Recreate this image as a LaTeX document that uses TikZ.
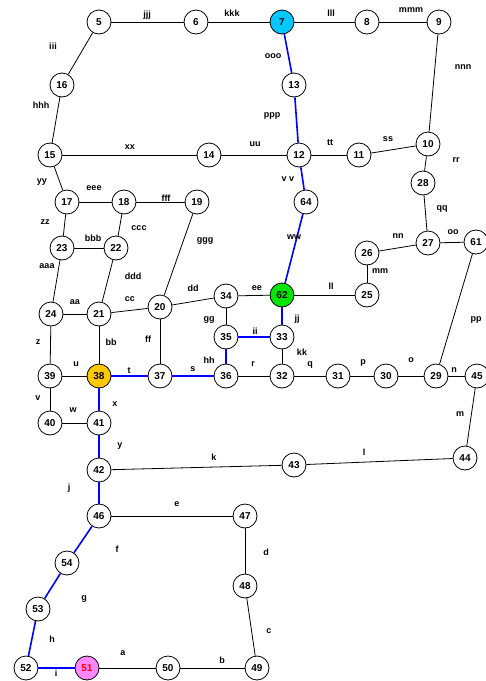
\documentclass[tikz,border=0pt]{standalone}
\usepackage{fontspec}
\setmainfont{Liberation Sans}
\definecolor{cyanfill}{RGB}{0,200,255}
\definecolor{goldfill}{RGB}{255,200,0}
\definecolor{pinkfill}{RGB}{255,136,255}
\definecolor{greenfill}{RGB}{0,230,0}
\tikzset{
  vtx/.style={circle,draw=black,line width=0.8pt,fill=white,minimum size=24pt,inner sep=0pt,font=\fontsize{10}{12}\selectfont\bfseries},
  elab/.style={inner sep=0pt,font=\fontsize{9}{11}\selectfont\bfseries},
  edg/.style={draw=black,line width=0.8pt},
  bedg/.style={draw=blue,line width=1.6pt}
}
\begin{document}
\begin{tikzpicture}[x=1pt,y=-1pt]
\useasboundingbox (0,0) rectangle (486,681);
% nodes
\node[vtx] (n5) at (99,22) {5};
\node[vtx] (n6) at (196,22) {6};
\node[vtx,fill=cyanfill] (n7) at (282,22) {7};
\node[vtx] (n8) at (367,22) {8};
\node[vtx] (n9) at (439,22) {9};
\node[vtx] (n16) at (62,85) {16};
\node[vtx] (n13) at (294,85) {13};
\node[vtx] (n15) at (50,155) {15};
\node[vtx] (n14) at (209,155) {14};
\node[vtx] (n12) at (299,155) {12};
\node[vtx] (n11) at (359,155) {11};
\node[vtx] (n10) at (428,144) {10};
\node[vtx] (n28) at (423,183) {28};
\node[vtx] (n17) at (67,202) {17};
\node[vtx] (n18) at (124,202) {18};
\node[vtx] (n19) at (197,202) {19};
\node[vtx] (n64) at (306,202) {64};
\node[vtx] (n23) at (62,248) {23};
\node[vtx] (n22) at (116,248) {22};
\node[vtx] (n26) at (367,253) {26};
\node[vtx] (n27) at (428,243) {27};
\node[vtx] (n61) at (476,242) {61};
\node[vtx] (n24) at (51,314) {24};
\node[vtx] (n21) at (99,314) {21};
\node[vtx] (n20) at (160,307) {20};
\node[vtx] (n34) at (226,296) {34};
\node[vtx,fill=greenfill] (n62) at (282,295) {62};
\node[vtx] (n25) at (367,295) {25};
\node[vtx] (n35) at (226,337) {35};
\node[vtx] (n33) at (282,337) {33};
\node[vtx] (n39) at (50,376) {39};
\node[vtx,fill=goldfill] (n38) at (99,376) {38};
\node[vtx] (n37) at (160,376) {37};
\node[vtx] (n36) at (226,376) {36};
\node[vtx] (n32) at (282,376) {32};
\node[vtx] (n31) at (338,376) {31};
\node[vtx] (n30) at (386,376) {30};
\node[vtx] (n29) at (436,376) {29};
\node[vtx] (n45) at (477,376) {45};
\node[vtx] (n40) at (50,423) {40};
\node[vtx] (n41) at (99,423) {41};
\node[vtx] (n42) at (99,470) {42};
\node[vtx] (n43) at (294,465) {43};
\node[vtx] (n44) at (465,458) {44};
\node[vtx] (n46) at (99,516) {46};
\node[vtx] (n47) at (245,516) {47};
\node[vtx] (n54) at (67,563) {54};
\node[vtx] (n48) at (245,586) {48};
\node[vtx] (n53) at (38,609) {53};
\node[vtx] (n52) at (26,668) {52};
\node[vtx,fill=pinkfill,text=red] (n51) at (87,668) {51};
\node[vtx] (n50) at (168,668) {50};
\node[vtx] (n49) at (257,668) {49};
% black edges
\path[edg] (n5)--(n6);
\path[edg] (n6)--(n7);
\path[edg] (n7)--(n8);
\path[edg] (n8)--(n9);
\path[edg] (n5)--(n16);
\path[edg] (n16)--(n15);
\path[edg] (n9)--(n10);
\path[edg] (n15)--(n14);
\path[edg] (n14)--(n12);
\path[edg] (n12)--(n11);
\path[edg] (n11)--(n10);
\path[edg] (n10)--(n28);
\path[edg] (n28)--(n27);
\path[edg] (n27)--(n61);
\path[edg] (n26)--(n27);
\path[edg] (n26)--(n25);
\path[edg] (n62)--(n25);
\path[edg] (n15)--(n17);
\path[edg] (n17)--(n18);
\path[edg] (n18)--(n19);
\path[edg] (n17)--(n23);
\path[edg] (n18)--(n22);
\path[edg] (n23)--(n22);
\path[edg] (n19)--(n20);
\path[edg] (n23)--(n24);
\path[edg] (n22)--(n21);
\path[edg] (n24)--(n21);
\path[edg] (n21)--(n20);
\path[edg] (n20)--(n34);
\path[edg] (n34)--(n62);
\path[edg] (n34)--(n35);
\path[edg] (n33)--(n32);
\path[edg] (n36)--(n32);
\path[edg] (n32)--(n31);
\path[edg] (n31)--(n30);
\path[edg] (n30)--(n29);
\path[edg] (n29)--(n45);
\path[edg] (n61)--(n29);
\path[edg] (n21)--(n38);
\path[edg] (n20)--(n37);
\path[edg] (n24)--(n39);
\path[edg] (n39)--(n38);
\path[edg] (n39)--(n40);
\path[edg] (n40)--(n41);
\path[edg] (n42)--(n43);
\path[edg] (n43)--(n44);
\path[edg] (n45)--(n44);
\path[edg] (n46)--(n47);
\path[edg] (n47)--(n48);
\path[edg] (n48)--(n49);
\path[edg] (n51)--(n50);
\path[edg] (n50)--(n49);
% blue edges
\path[bedg] (n7)--(n13);
\path[bedg] (n13)--(n12);
\path[bedg] (n12)--(n64);
\path[bedg] (n64)--(n62);
\path[bedg] (n62)--(n33);
\path[bedg] (n35)--(n33);
\path[bedg] (n35)--(n36);
\path[bedg] (n37)--(n36);
\path[bedg] (n38)--(n37);
\path[bedg] (n38)--(n41);
\path[bedg] (n41)--(n42);
\path[bedg] (n42)--(n46);
\path[bedg] (n46)--(n54);
\path[bedg] (n54)--(n53);
\path[bedg] (n53)--(n52);
\path[bedg] (n52)--(n51);
% edge labels
\node[elab] (ljjj) at (147,15) {jjj};
\node[elab] (lkkk) at (232,13) {kkk};
\node[elab] (llll) at (331,13) {lll};
\node[elab] (lmmm) at (411,10) {mmm};
\node[elab] (liii) at (53,46) {iii};
\node[elab] (lhhh) at (41,105) {hhh};
\node[elab] (looo) at (273,56) {ooo};
\node[elab] (lppp) at (272,116) {ppp};
\node[elab] (lnnn) at (463,67) {nnn};
\node[elab] (lxx) at (130,147) {xx};
\node[elab] (luu) at (255,144) {uu};
\node[elab] (ltt) at (330,143) {tt};
\node[elab] (lss) at (388,139) {ss};
\node[elab] (lrr) at (456,160) {rr};
\node[elab] (lvv) at (288,179) {v v};
\node[elab] (lyy) at (42,182) {yy};
\node[elab] (leee) at (94,188) {eee};
\node[elab] (lfff) at (166,198) {fff};
\node[elab] (lzz) at (45,222) {zz};
\node[elab] (lccc) at (139,228) {ccc};
\node[elab] (lggg) at (205,241) {ggg};
\node[elab] (lbbb) at (93,238) {bbb};
\node[elab] (laaa) at (47,266) {aaa};
\node[elab] (lddd) at (133,276) {ddd};
\node[elab] (lcc) at (130,299) {cc};
\node[elab] (ldd) at (193,288) {dd};
\node[elab] (laa) at (75,302) {aa};
\node[elab] (lgg) at (209,320) {gg};
\node[elab] (lee) at (257,288) {ee};
\node[elab] (lll) at (331,286) {ll};
\node[elab] (lww) at (294,237) {ww};
\node[elab] (lnn) at (398,236) {nn};
\node[elab] (lmm) at (380,271) {mm};
\node[elab] (lqq) at (442,209) {qq};
\node[elab] (loo) at (453,232) {oo};
\node[elab] (lpp) at (476,320) {pp};
\node[elab] (ljj) at (297,319) {jj};
\node[elab] (lii) at (255,331) {ii};
\node[elab] (lkk) at (302,352) {kk};
\node[elab] (lhh) at (209,360) {hh};
\node[elab] (lr) at (253,364) {r};
\node[elab] (lq) at (310,365) {q};
\node[elab] (lp) at (363,363) {p};
\node[elab] (lo) at (411,360) {o};
\node[elab] (ln) at (454,370) {n};
\node[elab] (lbb) at (111,342) {bb};
\node[elab] (lff) at (148,339) {ff};
\node[elab] (lz) at (38,342) {z};
\node[elab] (lu) at (76,364) {u};
\node[elab] (lt) at (129,371) {t};
\node[elab] (ls) at (193,369) {s};
\node[elab] (lv) at (38,398) {v};
\node[elab] (lw) at (73,410) {w};
\node[elab] (lx) at (115,404) {x};
\node[elab] (ly) at (120,446) {y};
\node[elab] (lk) at (214,457) {k};
\node[elab] (ll) at (364,452) {l};
\node[elab] (lm) at (460,414) {m};
\node[elab] (lj) at (69,488) {j};
\node[elab] (le) at (177,504) {e};
\node[elab] (lf) at (117,549) {f};
\node[elab] (ld) at (266,552) {d};
\node[elab] (lg) at (84,599) {g};
\node[elab] (lc) at (269,631) {c};
\node[elab] (lh) at (52,639) {h};
\node[elab] (la) at (123,653) {a};
\node[elab] (lb) at (222,660) {b};
\node[elab] (li) at (56,673) {i};
\end{tikzpicture}
\end{document}
